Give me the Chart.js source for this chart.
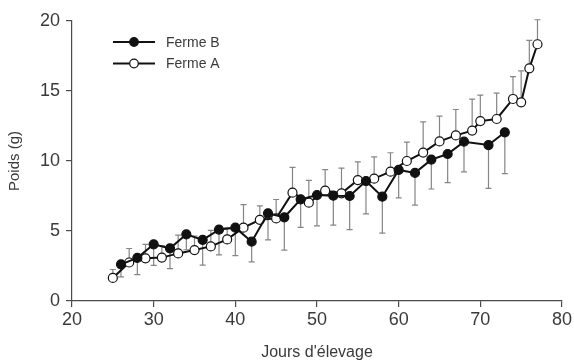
<!DOCTYPE html>
<html>
<head>
<meta charset="utf-8">
<script src="https://cdn.jsdelivr.net/npm/chart.js@4/dist/chart.umd.min.js"></script>
<style>
  html, body { margin: 0; padding: 0; background: #fff; }
  #wrap { width: 574px; height: 362px; }
</style>
</head>
<body>
<div id="wrap"><canvas id="c" width="574" height="362"></canvas></div>
<script>
// Ferme A: mean weight (g) by rearing day, error bar drawn upward
const daysA = [25, 27, 29, 31, 33, 35, 37, 39, 41, 43, 45, 47, 49, 51, 53, 55, 57, 59, 61, 63, 65, 67, 69, 70, 72, 74, 75, 76, 77];
const weightA = [1.65, 2.75, 3.05, 3.1, 3.4, 3.64, 3.9, 4.4, 5.24, 5.8, 5.9, 7.74, 7.02, 7.88, 7.69, 8.64, 8.74, 9.24, 10.0, 10.6, 11.4, 11.83, 12.17, 12.85, 13.0, 14.43, 14.19, 16.62, 18.34];
const errA = [0.6, 1.0, 1.0, 0.85, 1.3, 1.0, 1.15, 0.85, 1.65, 1.0, 1.35, 1.8, 1.6, 1.5, 1.8, 1.3, 1.55, 1.35, 1.35, 2.2, 1.8, 1.85, 2.25, 1.85, 1.85, 1.6, 2.25, 2.0, 1.75];

// Ferme B: mean weight (g) by rearing day, error bar drawn downward
const daysB = [26, 28, 30, 32, 34, 36, 38, 40, 42, 44, 46, 48, 50, 52, 54, 56, 58, 60, 62, 64, 66, 68, 71, 73];
const weightB = [2.62, 3.08, 4.05, 3.76, 4.76, 4.36, 5.1, 5.24, 4.24, 6.26, 5.98, 7.26, 7.57, 7.52, 7.5, 8.57, 7.45, 9.36, 9.15, 10.1, 10.5, 11.38, 11.14, 12.05];
const errB = [0.9, 1.2, 1.5, 1.45, 1.1, 1.8, 1.8, 2.0, 1.45, 1.9, 2.35, 2.0, 2.2, 2.1, 2.4, 2.35, 2.6, 2.0, 2.3, 2.1, 2.05, 2.15, 3.1, 2.95];

// Axis ticks
const xTicks = [20, 30, 40, 50, 60, 70, 80];
const yTicks = [0, 5, 10, 15, 20];

const labelA = 'Ferme A';
const labelB = 'Ferme B';

const TEXT = '#3a3a3a';
const AXIS = '#4a4a4a';
const FONT = "'Liberation Sans', Arial, sans-serif";

const toPoints = (xs, ys) => xs.map((x, i) => ({ x: x, y: ys[i] }));

// Vertical error bars, one direction per farm, drawn under the lines
const errorBars = {
  id: 'errorBars',
  beforeDatasetsDraw(chart) {
    const { ctx, scales: { x, y } } = chart;
    const sets = [
      { days: daysB, w: weightB, e: errB, dir: -1 },
      { days: daysA, w: weightA, e: errA, dir: 1 }
    ];
    ctx.save();
    ctx.strokeStyle = '#858585';
    ctx.lineWidth = 1.2;
    sets.forEach(s => {
      s.days.forEach((d, i) => {
        const px = x.getPixelForValue(d);
        const y0 = y.getPixelForValue(s.w[i]);
        const y1 = y.getPixelForValue(s.w[i] + s.dir * s.e[i]);
        ctx.beginPath();
        ctx.moveTo(px, y0);
        ctx.lineTo(px, y1);
        ctx.moveTo(px - 3, y1);
        ctx.lineTo(px + 3, y1);
        ctx.stroke();
      });
    });
    ctx.restore();
  }
};

// Legend: line segment with centred marker, label to the right
const lineLegend = {
  id: 'lineLegend',
  afterDraw(chart) {
    const { ctx } = chart;
    const items = chart.data.datasets;
    ctx.save();
    items.forEach((ds, i) => {
      const cy = 42 + i * 21.5;
      const x0 = 113, x1 = 155, cx = 134;
      ctx.strokeStyle = ds.borderColor;
      ctx.lineWidth = 2;
      ctx.beginPath();
      ctx.moveTo(x0, cy);
      ctx.lineTo(x1, cy);
      ctx.stroke();
      ctx.beginPath();
      ctx.arc(cx, cy, 4.3, 0, Math.PI * 2);
      ctx.fillStyle = ds.pointBackgroundColor;
      ctx.fill();
      ctx.lineWidth = 1.2;
      ctx.strokeStyle = ds.pointBorderColor;
      ctx.stroke();
      ctx.fillStyle = TEXT;
      ctx.font = '14px ' + FONT;
      ctx.textBaseline = 'middle';
      ctx.fillText(ds.label, 166, cy + 1);
    });
    ctx.restore();
  }
};

new Chart(document.getElementById('c'), {
  type: 'line',
  data: {
    datasets: [
      {
        label: labelB,
        data: toPoints(daysB, weightB),
        borderColor: '#111',
        borderWidth: 2,
        pointRadius: 4.5,
        pointBackgroundColor: '#111',
        pointBorderColor: '#111',
        pointBorderWidth: 1.2,
        tension: 0
      },
      {
        label: labelA,
        data: toPoints(daysA, weightA),
        borderColor: '#111',
        borderWidth: 2,
        pointRadius: 4.5,
        pointBackgroundColor: '#fff',
        pointBorderColor: '#111',
        pointBorderWidth: 1.2,
        tension: 0
      }
    ]
  },
  options: {
    responsive: false,
    animation: false,
    devicePixelRatio: 1,
    layout: { padding: { top: 21, right: 12, left: 0, bottom: 0 } },
    plugins: {
      legend: { display: false },
      tooltip: { enabled: false }
    },
    scales: {
      x: {
        type: 'linear',
        min: 20,
        max: 80,
        afterBuildTicks: s => { s.ticks = xTicks.map(v => ({ value: v })); },
        afterFit: s => { s.height = 61; },
        grid: { display: true, drawOnChartArea: false, drawTicks: true, tickLength: 6, color: AXIS, lineWidth: 1.2 },
        border: { display: true, color: AXIS, width: 1.2 },
        ticks: { color: TEXT, font: { family: FONT, size: 18 }, padding: 2, maxRotation: 0 },
        title: { display: true, text: "Jours d'élevage", color: TEXT, font: { family: FONT, size: 16 }, padding: 0 }
      },
      y: {
        type: 'linear',
        min: 0,
        max: 20,
        afterBuildTicks: s => { s.ticks = yTicks.map(v => ({ value: v })); },
        afterFit: s => { s.width = 72; },
        grid: { display: true, drawOnChartArea: false, drawTicks: true, tickLength: 6, color: AXIS, lineWidth: 1.2 },
        border: { display: true, color: AXIS, width: 1.2 },
        ticks: { color: TEXT, font: { family: FONT, size: 18 }, padding: 6 },
        title: { display: true, text: 'Poids (g)', color: TEXT, font: { family: FONT, size: 15 }, padding: { top: 6, bottom: 0 } }
      }
    }
  },
  plugins: [errorBars, lineLegend]
});
</script>
</body>
</html>
